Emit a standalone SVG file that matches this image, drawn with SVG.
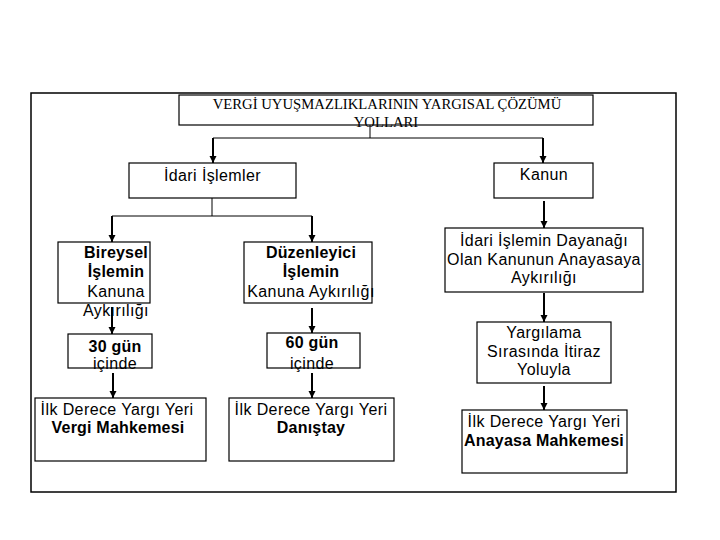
<svg xmlns="http://www.w3.org/2000/svg" width="720" height="540" viewBox="0 0 720 540">
<defs>
<marker id="ah" markerWidth="8" markerHeight="8" refX="7" refY="4" orient="auto" markerUnits="userSpaceOnUse">
<path d="M0,0.5 L7,4 L0,7.5 Z" fill="#000"/>
</marker>
<style>
.box{fill:#fff;stroke:#000;stroke-width:1.2}
.frame{fill:none;stroke:#000;stroke-width:1.5}
.t{font-family:"Liberation Sans",Arial,sans-serif;font-size:16px;letter-spacing:0.4px;fill:#000;text-anchor:middle}
.b{font-weight:bold;letter-spacing:0.2px}
.ser{font-family:"Liberation Serif","Times New Roman",serif;font-size:14.7px;fill:#000;text-anchor:middle}
.thin{stroke:#000;stroke-width:1;fill:none}
.arr{stroke:#000;stroke-width:2;fill:none;marker-end:url(#ah)}
</style>
</defs>
<rect width="720" height="540" fill="#fff"/>
<rect class="frame" x="31" y="93" width="645" height="399"/>

<g id="connectors">
<path class="thin" d="M370,125 V138 M213,138 H543"/>
<path class="arr" d="M213,138 V163"/>
<path class="arr" d="M543,138 V163"/>
<path class="thin" d="M212,198 V216 M112,216 H312"/>
<path class="arr" d="M112,216 V242"/>
<path class="arr" d="M312,216 V242"/>
<path class="arr" d="M544,201 V228"/>
<path class="arr" d="M112,307 V334"/>
<path class="arr" d="M312,308 V333"/>
<path class="arr" d="M113,373 V398"/>
<path class="arr" d="M312,373 V398"/>
<path class="arr" d="M544,293 V322"/>
<path class="arr" d="M544,386 V410"/>
</g>

<g id="title">
<rect class="box" x="179" y="95" width="414" height="30"/>
<text class="ser" x="387" y="109">VERGİ UYUŞMAZLIKLARININ YARGISAL ÇÖZÜMÜ</text>
<text class="ser" x="386" y="127">YOLLARI</text>
</g>

<g id="idari">
<rect class="box" x="129" y="163" width="167" height="35"/>
<text class="t" x="212.5" y="181">İdari İşlemler</text>
</g>

<g id="kanun">
<rect class="box" x="494" y="163" width="99" height="35"/>
<text class="t" x="544" y="180">Kanun</text>
</g>

<g id="bireysel">
<rect class="box" x="58" y="242" width="92" height="61"/>
<text class="t b" x="116" y="258">Bireysel</text>
<text class="t b" x="116" y="277">İşlemin</text>
<text class="t" x="116" y="297">Kanuna</text>
<text class="t" x="116" y="316">Aykırılığı</text>
</g>

<g id="duzenleyici">
<rect class="box" x="244" y="242" width="128" height="61"/>
<text class="t b" x="311" y="258">Düzenleyici</text>
<text class="t b" x="311" y="277">İşlemin</text>
<text class="t" x="311" y="297">Kanuna Aykırılığı</text>
</g>

<g id="dayanak">
<rect class="box" x="445" y="228" width="198" height="64"/>
<text class="t" x="544" y="246">İdari İşlemin Dayanağı</text>
<text class="t" x="544" y="265">Olan Kanunun Anayasaya</text>
<text class="t" x="544" y="283">Aykırılığı</text>
</g>

<g id="gun30">
<rect class="box" x="68" y="334" width="84" height="34"/>
<text class="t b" x="115" y="352">30 gün</text>
<text class="t" x="115" y="369">içinde</text>
</g>

<g id="gun60">
<rect class="box" x="267" y="333" width="93" height="35"/>
<text class="t b" x="312" y="348">60 gün</text>
<text class="t" x="312" y="369">içinde</text>
</g>

<g id="yargilama">
<rect class="box" x="477" y="322" width="134" height="61"/>
<text class="t" x="544" y="338">Yargılama</text>
<text class="t" x="544" y="357">Sırasında İtiraz</text>
<text class="t" x="544" y="375">Yoluyla</text>
</g>

<g id="vergi">
<rect class="box" x="35" y="398" width="171" height="63"/>
<text class="t" x="117" y="415">İlk Derece Yargı Yeri</text>
<text class="t b" x="118" y="433">Vergi Mahkemesi</text>
</g>

<g id="danistay">
<rect class="box" x="229" y="398" width="165" height="63"/>
<text class="t" x="311" y="415">İlk Derece Yargı Yeri</text>
<text class="t b" x="311" y="433">Danıştay</text>
</g>

<g id="anayasa">
<rect class="box" x="462" y="410" width="165" height="63"/>
<text class="t" x="544" y="427">İlk Derece Yargı Yeri</text>
<text class="t b" x="544" y="446">Anayasa Mahkemesi</text>
</g>
</svg>
